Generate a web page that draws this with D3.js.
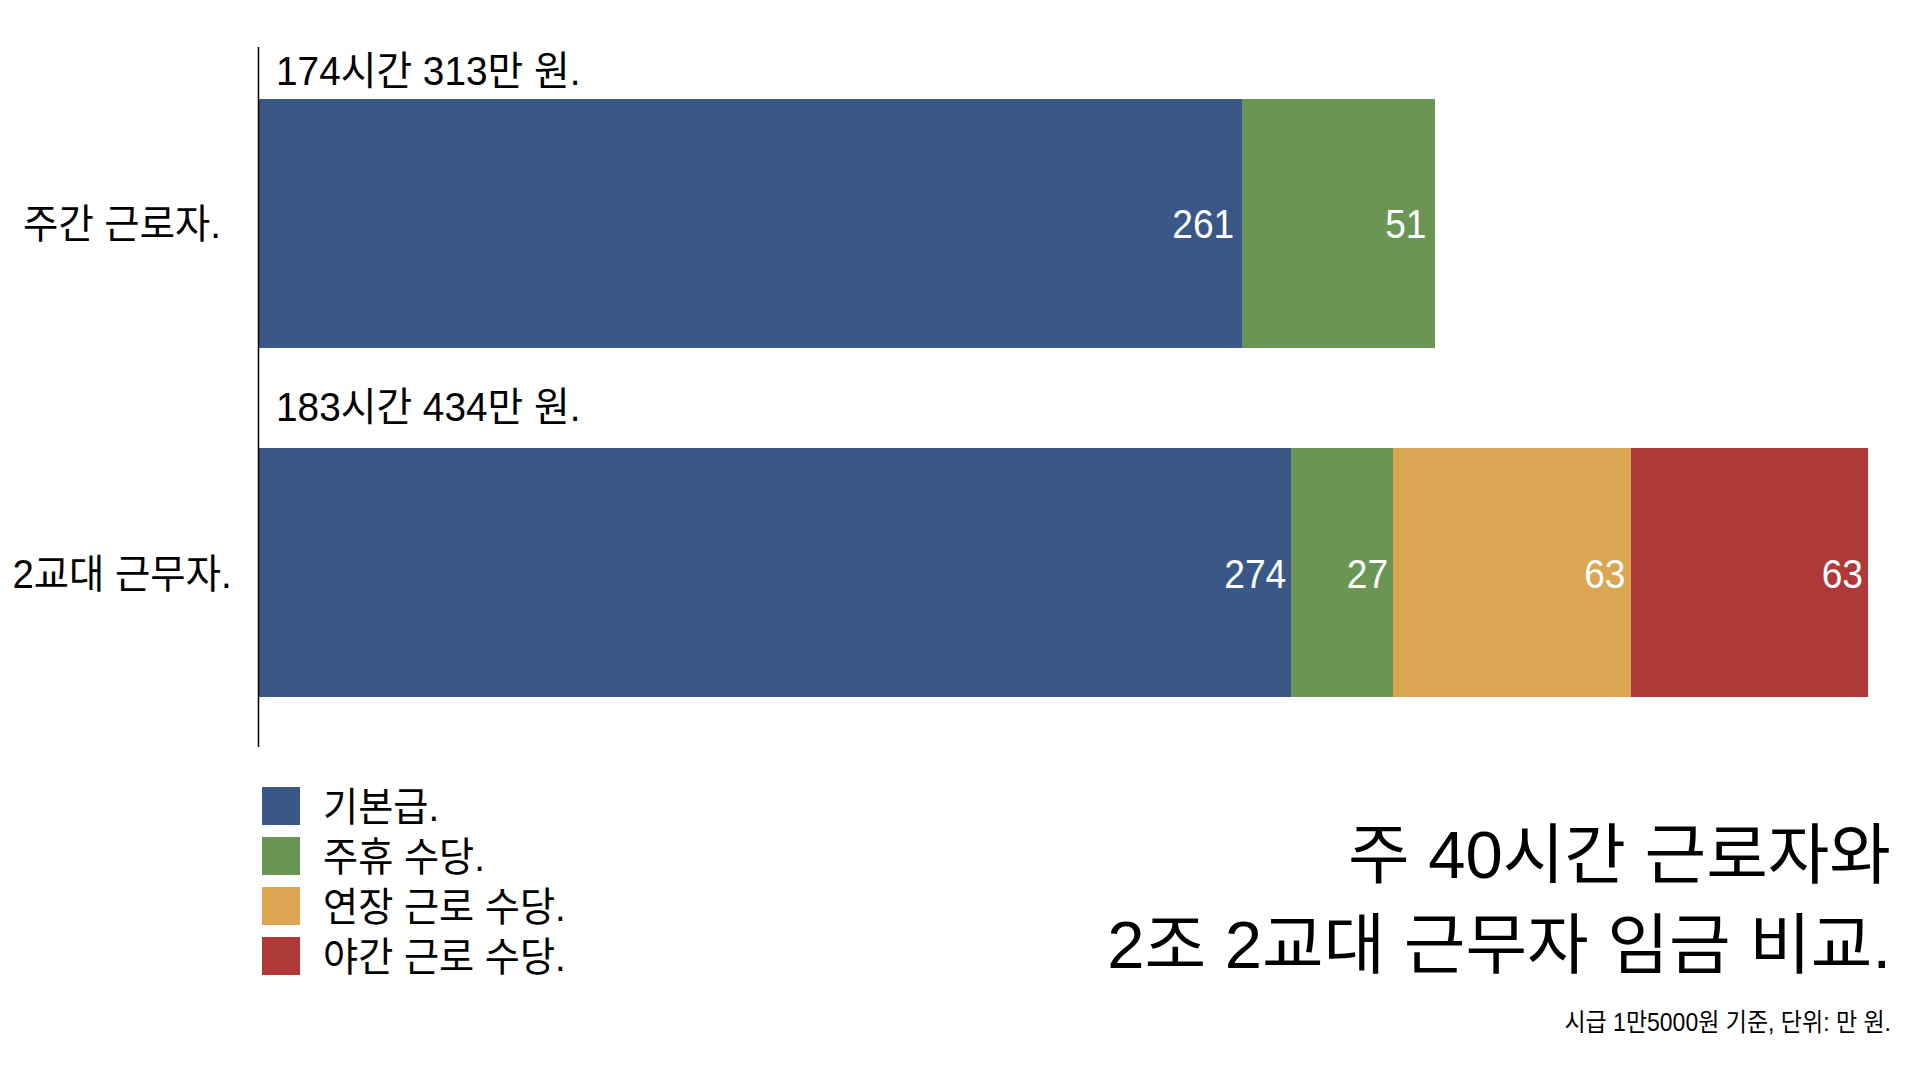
<!DOCTYPE html>
<html><head><meta charset="utf-8">
<script src="https://cdn.jsdelivr.net/npm/d3@7"></script>
<style>
html,body{margin:0;padding:0;background:#fff;}
svg{display:block;}
text{font-family:"Liberation Sans","Noto Sans CJK KR",sans-serif;fill:#000;}
</style></head>
<body>
<svg id="chart" width="1920" height="1080"></svg>
<script>
// ---- data ----
const categories = ["주간 근로자.", "2교대 근무자."];
const seriesNames = ["기본급.", "주휴 수당.", "연장 근로 수당.", "야간 근로 수당."];
const basePay = [261, 274];
const holidayPay = [51, 27];
const overtimePay = [0, 63];
const nightPay = [0, 63];
const hours = [174, 183];
const totals = [313, 434];
const titleLines = ["주 40시간 근로자와", "2조 2교대 근무자 임금 비교."];
const footnote = "시급 1만5000원 기준, 단위: 만 원.";
const colors = ["#395787", "#6A9554", "#DCA551", "#AF3938"];

const keys = ["base", "holiday", "overtime", "night"];
const rows = categories.map((c, i) => ({
  cat: c, base: basePay[i], holiday: holidayPay[i], overtime: overtimePay[i], night: nightPay[i],
  hours: hours[i], total: totals[i]
}));

const svg = d3.select("#chart");

function addText(g, x, y, str, size, anchor, fill, sx) {
  return g.append("text")
    .attr("transform", `translate(${x},${y}) scale(${sx},1)`)
    .attr("text-anchor", anchor)
    .attr("font-size", size)
    .style("fill", fill || "#000")
    .text(str);
}

const stacked = d3.stack().keys(keys)(rows);

const x = d3.scaleLinear()
  .domain([0, d3.max(rows, d => keys.reduce((s, k) => s + d[k], 0))])
  .range([258.5, 1868]);

const y = d3.scaleBand()
  .domain(categories)
  .range([48, 748])
  .paddingInner(0.285)
  .paddingOuter(0.145);

const color = d3.scaleOrdinal().domain(keys).range(colors);

// bars
const layers = svg.append("g").selectAll("g")
  .data(stacked).join("g")
  .attr("fill", d => color(d.key));

layers.selectAll("rect")
  .data(d => d.map(s => ({ s, key: d.key })))
  .join("rect")
  .attr("x", d => x(d.s[0]))
  .attr("y", d => y(d.s.data.cat))
  .attr("width", d => x(d.s[1]) - x(d.s[0]))
  .attr("height", y.bandwidth())
  .attr("shape-rendering", "crispEdges");

// value labels
const labG = svg.append("g");
stacked.forEach(layer => {
  layer.forEach((s, i) => {
    const v = s[1] - s[0];
    if (v <= 0) return;
    const pad = i === 0 ? 8 : 5;
    addText(labG, x(s[1]) - pad, y(s.data.cat) + y.bandwidth() / 2 + 15, String(v), 40, "end", "#fff", 0.93);
  });
});

// axis line (category axis without ticks)
const yAxis = d3.axisLeft(y).tickSize(0).tickFormat("");
const axG = svg.append("g").attr("transform", `translate(${x(0)},0)`).call(yAxis);
axG.select(".domain").attr("stroke", "#000").attr("stroke-width", 1.5)
  .attr("d", "M0,47V747");

// category labels
categories.forEach(c => {
  addText(svg, 122, y(c) + y.bandwidth() / 2 + 15, c, 40, "middle", "#000", 0.96);
});

// totals above bars
const topOffsets = [14, 27];
rows.forEach((r, i) => {
  addText(svg, 276, y(r.cat) - topOffsets[i], `${r.hours}시간 ${r.total}만 원.`, 40, "start", "#000", 0.97);
});

// legend
const lg = svg.append("g");
seriesNames.forEach((n, i) => {
  lg.append("rect").attr("x", 262).attr("y", 787 + i * 50).attr("width", 38).attr("height", 38)
    .attr("fill", colors[i]);
  addText(lg, 323, 787 + i * 50 + 34, n, 40, "start", "#000", 0.955);
});

// title
titleLines.forEach((t, i) => {
  addText(svg, 1891, 878 + i * 90, t, 66, "end", "#000", 1.015);
});

// footnote
addText(svg, 1891, 1031, footnote, 25, "end", "#000", 0.92);
</script>
</body></html>
